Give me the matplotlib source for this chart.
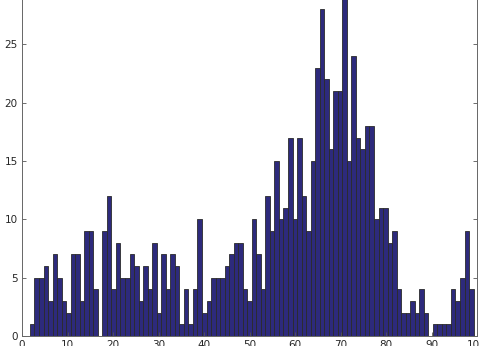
import numpy as np
import matplotlib
matplotlib.use('Agg')
import matplotlib.pyplot as plt


# counts per bin (98 bins)
counts = [1, 5, 5, 6, 3, 7, 5, 3, 2, 7,
          7, 3, 9, 9, 4, 0, 9, 12, 4, 8,
          5, 5, 7, 6, 3, 6, 4, 8, 2, 7,
          4, 7, 6, 1, 4, 1, 4, 10, 2, 3,
          5, 5, 5, 6, 7, 8, 8, 4, 3, 10,
          7, 4, 12, 9, 15, 10, 11, 17, 10, 17,
          12, 9, 15, 23, 28, 22, 16, 21, 21, 29,
          15, 24, 17, 16, 18, 18, 10, 11, 11, 8,
          9, 4, 2, 2, 3, 2, 4, 2, 0, 1,
          1, 1, 1, 4, 3, 5, 9, 4]
x_lo, x_hi = 1.75, 99.25
xticks = [0, 10, 20, 30, 40, 50, 60, 70, 80, 90, 100]
yticks = [0, 5, 10, 15, 20, 25]

edges = np.linspace(x_lo, x_hi, len(counts) + 1)

fig = plt.figure(figsize=(4.79, 3.46), dpi=100)
ax = fig.add_axes([22 / 479, 10 / 346, 455 / 479, 350 / 346])

ax.bar(edges[:-1], counts, width=np.diff(edges), align='edge',
       facecolor='#2d2a7c', edgecolor='#2a2a2a', linewidth=0.6)

ax.set_xlim(0, 100)
ax.set_ylim(0, 30)
ax.set_xticks(xticks)
ax.set_yticks(yticks)
ax.tick_params(direction='in', length=3, width=0.6, colors='#555555',
               labelcolor='#262626', labelsize=7.5, right=True, top=True,
               pad=3)
for s in ax.spines.values():
    s.set_color('#666666')
    s.set_linewidth(0.7)

fig.savefig('out.png', dpi=100)
